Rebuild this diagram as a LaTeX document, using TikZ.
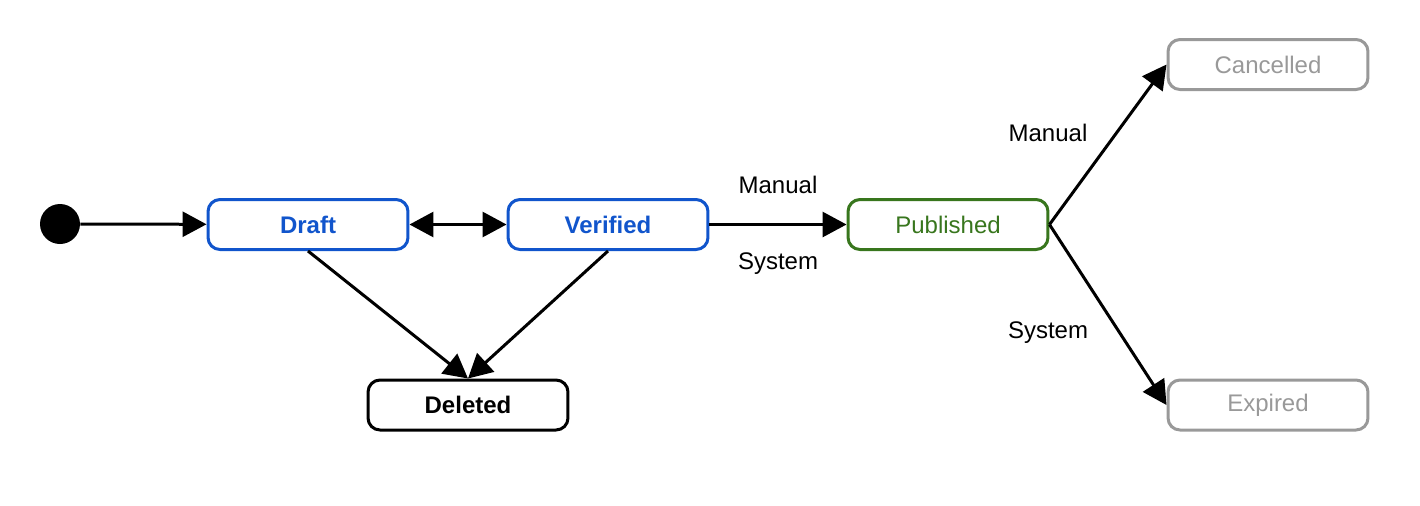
\documentclass[tikz,border=0pt]{standalone}
\usepackage{fontspec}
\setmainfont{Liberation Sans}
\usetikzlibrary{arrows.meta}
\definecolor{stBlue}{RGB}{17,85,204}
\definecolor{stGreen}{RGB}{56,118,29}
\definecolor{stGray}{RGB}{153,153,153}
\tikzset{
    base/.style={font=\fontsize{13.66}{16}\selectfont, align=center},
    state/.style={base, rectangle, rounded corners=2.4mm, line width=0.6mm,
                  fill=white, minimum width=4cm, minimum height=1cm, inner sep=0pt},
    active/.style={state, draw=stBlue, text=stBlue, font=\fontsize{13.66}{16}\selectfont\bfseries},
    live/.style={state, draw=stGreen, text=stGreen},
    closed/.style={state, draw=stGray, text=stGray},
    removed/.style={state, draw=black, text=black, font=\fontsize{13.66}{16}\selectfont\bfseries},
    initial/.style={circle, fill=black, minimum size=0.8cm, inner sep=0pt},
    flow/.style={-{Triangle[length=4.8mm, width=5mm]}, line width=0.6mm, color=black},
    biflow/.style={flow, {Triangle[length=4.8mm, width=5mm]}-{Triangle[length=4.8mm, width=5mm]}},
    edgelabel/.style={base, text=black, inner sep=1pt}
}
\begin{document}
\begin{tikzpicture}[x=0.02cm, y=-0.02cm]
  \useasboundingbox (0,0) rectangle (1420,505);

  % States
  \node[initial] (init) at (60,224) {};
  \node[active] (draft) at (308,224.5) {Draft};
  \node[active] (verified) at (608,224.5) {Verified};
  \node[live] (published) at (948,224.5) {Published};
  \node[closed] (cancelled) at (1268,64.5) {Cancelled};
  \node[closed] (expired) at (1268,405) {Expired\vphantom{y}};
  \node[removed] (deleted) at (468,405) {Deleted};

  % Transitions
  \draw[flow] (init) -- (draft);
  \draw[biflow] (draft) -- (verified);
  \draw[flow] (verified) -- (published);
  \draw[flow] (published.east) -- (cancelled.west);
  \draw[flow] (published.east) -- (expired.west);
  \draw[flow] (draft.south) -- (deleted.north);
  \draw[flow] (verified.south) -- (deleted.north);

  % Labels
  \node[edgelabel] (pubManual) at (778,185) {Manual};
  \node[edgelabel] (pubSystem) at (778,264) {System};
  \node[edgelabel] (canManual) at (1048,133) {Manual};
  \node[edgelabel] (expSystem) at (1048,333) {System};
\end{tikzpicture}
\end{document}
